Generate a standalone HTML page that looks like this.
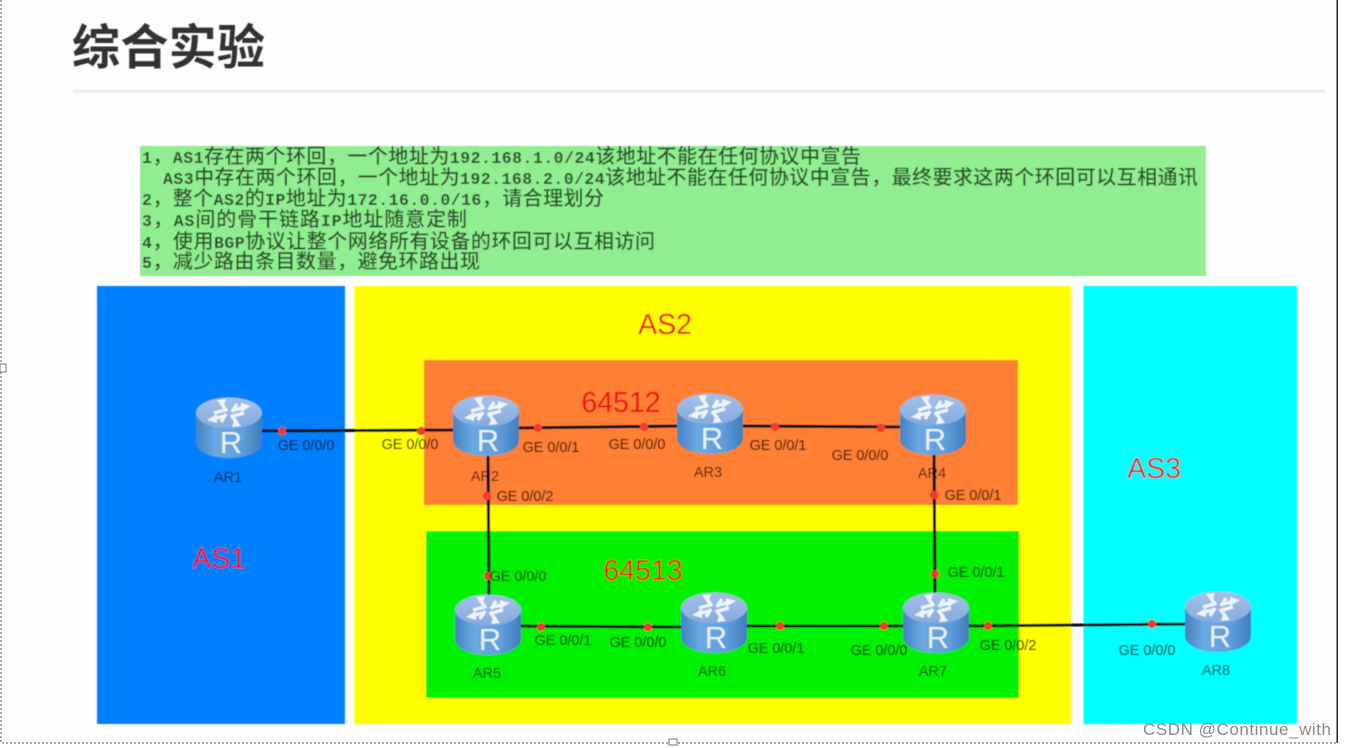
<!DOCTYPE html>
<html><head><meta charset="utf-8">
<style>
html,body{margin:0;padding:0;background:#fff;width:1345px;height:748px;overflow:hidden}
svg{display:block}
.l{font-family:"Liberation Mono","Noto Sans CJK SC",monospace;font-size:20px;fill:#2a4f2a;font-weight:500}
.l tspan{font-size:16.5px;font-weight:700}
.ge{font-family:"Liberation Sans",sans-serif;font-size:14.4px;fill:#000;fill-opacity:.78;text-anchor:middle;stroke:#000;stroke-opacity:.25;stroke-width:.3}
.ar{font-family:"Liberation Sans",sans-serif;font-size:14.5px;fill:#000;fill-opacity:.75;text-anchor:middle}
.red{font-family:"Liberation Sans","Noto Sans CJK SC",sans-serif;font-size:28.5px;fill:#f01010;text-anchor:middle}
.rr{font-family:"Liberation Sans",sans-serif;font-size:31px;fill:#e8f2fb;text-anchor:middle}
</style></head>
<body>
<svg width="1345" height="748" viewBox="0 0 1345 748" xmlns="http://www.w3.org/2000/svg">
<defs>
<filter id="b" x="-2%" y="-2%" width="104%" height="104%"><feGaussianBlur stdDeviation="0.6"/></filter>
<linearGradient id="side" x1="0" x2="1" y1="0" y2="0">
<stop offset="0" stop-color="#4583c4"/><stop offset=".3" stop-color="#6ba8e2"/><stop offset=".7" stop-color="#5f9edb"/><stop offset="1" stop-color="#3f7cbc"/>
</linearGradient>
<linearGradient id="top" x1="0" x2="0" y1="0" y2="1">
<stop offset="0" stop-color="#a4c0e8"/><stop offset="1" stop-color="#85abdf"/>
</linearGradient>
<g id="router">
<path d="M-33-14V15C-33 25-17 31 0 31S33 25 33 15V-14Z" fill="url(#side)"/>
<ellipse cx="0" cy="-14" rx="33" ry="15.5" fill="url(#top)"/>
<g stroke="#eef4fb" stroke-width="3.4" fill="none">
<path d="M-15-14L-4-17M-8-24L-2-16M15-14L4-11M8-4L2-12M-8-5L-3-13M-17-8L-5-11M8-23L3-15M17-20L5-17"/>
</g>
<g fill="#eef4fb"><path d="M-22-7L-12-13L-12-4ZM22-21L12-15L12-24ZM-12-27L-3-28L-6-19ZM12-1L3 0L6-9Z"/></g>
</g>
</defs>
<rect width="1345" height="748" fill="#fff"/>
<rect x="0" y="0" width="1337" height="743" fill="#fdfdfd"/>
<g filter="url(#b)">
<text x="72" y="64" font-family="'Noto Sans CJK SC',sans-serif" font-size="48" font-weight="700" fill="#333" textLength="193">综合实验</text>
<rect x="73" y="90" width="1252" height="2.5" fill="#e9e9e9"/>

<rect x="140" y="146" width="1066" height="130" fill="#90ee90"/>
<text class="l" x="142" y="163" textLength="719"><tspan>1</tspan>，<tspan>AS1</tspan>存在两个环回，一个地址为<tspan>192.168.1.0/24</tspan>该地址不能在任何协议中宣告</text>
<text class="l" x="163" y="184" textLength="1035"><tspan>AS3</tspan>中存在两个环回，一个地址为<tspan>192.168.2.0/24</tspan>该地址不能在任何协议中宣告，最终要求这两个环回可以互相通讯</text>
<text class="l" x="142" y="205" textLength="462"><tspan>2</tspan>，整个<tspan>AS2</tspan>的<tspan>IP</tspan>地址为<tspan>172.16.0.0/16</tspan>，请合理划分</text>
<text class="l" x="142" y="226" textLength="325"><tspan>3</tspan>，<tspan>AS</tspan>间的骨干链路<tspan>IP</tspan>地址随意定制</text>
<text class="l" x="142" y="248" textLength="513"><tspan>4</tspan>，使用<tspan>BGP</tspan>协议让整个网络所有设备的环回可以互相访问</text>
<text class="l" x="142" y="268" textLength="338"><tspan>5</tspan>，减少路由条目数量，避免环路出现</text>

<rect x="97" y="286" width="248" height="438" fill="#0080ff"/>
<rect x="354.5" y="286" width="716.5" height="438" fill="#ffff00"/>
<rect x="1083.5" y="286" width="213.5" height="438" fill="#00ffff"/>
<rect x="424" y="360" width="594" height="145" fill="#ff7f35"/>
<rect x="426" y="531" width="593" height="167" fill="#00f200"/>

<text class="red" x="665" y="334">AS2</text>
<text class="red" x="621" y="412">64512</text>
<text class="red" x="643" y="580">64513</text>
<text class="red" x="1154" y="478">AS3</text>
<text class="red" x="219" y="568">AS1</text>

<g stroke="#0a0a0a" stroke-width="3" fill="none">
<path d="M255 431L460 430"/>
<path d="M515 428L680 426"/>
<path d="M740 426L905 427"/>
<path d="M488 450L489 600"/>
<path d="M934 450L935 600"/>
<path d="M515 626L685 627"/>
<path d="M745 626L905 626"/>
<path d="M965 626L1190 624"/>
</g>

<g fill="#f03a30">
<circle cx="282" cy="431" r="4.2"/><circle cx="421" cy="431" r="4.2"/><circle cx="538" cy="428" r="4.2"/><circle cx="644" cy="427" r="4.2"/>
<circle cx="775" cy="427" r="4.2"/><circle cx="881" cy="428" r="4.2"/><circle cx="487" cy="496" r="4.2"/><circle cx="934" cy="495" r="4.2"/>
<circle cx="488" cy="576" r="4.2"/><circle cx="935" cy="574" r="4.2"/><circle cx="541" cy="627" r="4.2"/><circle cx="648" cy="627" r="4.2"/>
<circle cx="780" cy="626" r="4.2"/><circle cx="884" cy="626" r="4.2"/><circle cx="988" cy="626" r="4.2"/><circle cx="1152" cy="624" r="4.2"/>
</g>

<use href="#router" x="229" y="427"/><text class="rr" x="231" y="453">R</text>
<use href="#router" x="486" y="425"/><text class="rr" x="488" y="451">R</text>
<use href="#router" x="710" y="423"/><text class="rr" x="712" y="449">R</text>
<use href="#router" x="933" y="424"/><text class="rr" x="935" y="450">R</text>
<use href="#router" x="488" y="624"/><text class="rr" x="490" y="650">R</text>
<use href="#router" x="714" y="622"/><text class="rr" x="716" y="648">R</text>
<use href="#router" x="936" y="622"/><text class="rr" x="938" y="648">R</text>
<use href="#router" x="1218" y="621"/><text class="rr" x="1220" y="647">R</text>

<text class="ge" x="306" y="450">GE 0/0/0</text>
<text class="ge" x="410" y="449">GE 0/0/0</text>
<text class="ge" x="551" y="452">GE 0/0/1</text>
<text class="ge" x="637" y="449">GE 0/0/0</text>
<text class="ge" x="778" y="450">GE 0/0/1</text>
<text class="ge" x="860" y="460">GE 0/0/0</text>
<text class="ge" x="525" y="501">GE 0/0/2</text>
<text class="ge" x="973" y="500">GE 0/0/1</text>
<text class="ge" x="518" y="581">GE 0/0/0</text>
<text class="ge" x="976" y="577">GE 0/0/1</text>
<text class="ge" x="563" y="645">GE 0/0/1</text>
<text class="ge" x="638" y="647">GE 0/0/0</text>
<text class="ge" x="776" y="653">GE 0/0/1</text>
<text class="ge" x="879" y="655">GE 0/0/0</text>
<text class="ge" x="1008" y="650">GE 0/0/2</text>
<text class="ge" x="1147" y="655">GE 0/0/0</text>

<text class="ar" x="228" y="482">AR1</text>
<text class="ar" x="485" y="481">AR2</text>
<text class="ar" x="708" y="477">AR3</text>
<text class="ar" x="932" y="478">AR4</text>
<text class="ar" x="487" y="678">AR5</text>
<text class="ar" x="712" y="676">AR6</text>
<text class="ar" x="933" y="676">AR7</text>
<text class="ar" x="1216" y="675">AR8</text>
</g>

<text x="1143" y="735" font-family="'Liberation Sans',sans-serif" font-size="17" fill="#8a8a8a" textLength="188">CSDN @Continue_with</text>
<rect x="1336.5" y="0" width="1.5" height="743" fill="#222"/>
<path d="M1 0V743H1337" fill="none" stroke="#555" stroke-width="1" stroke-dasharray="2 2"/>
<rect x="0" y="364" width="6" height="8" fill="#fff" stroke="#777"/>
<rect x="669" y="739" width="8" height="6" fill="#fff" stroke="#777"/>
</svg>
</body></html>
